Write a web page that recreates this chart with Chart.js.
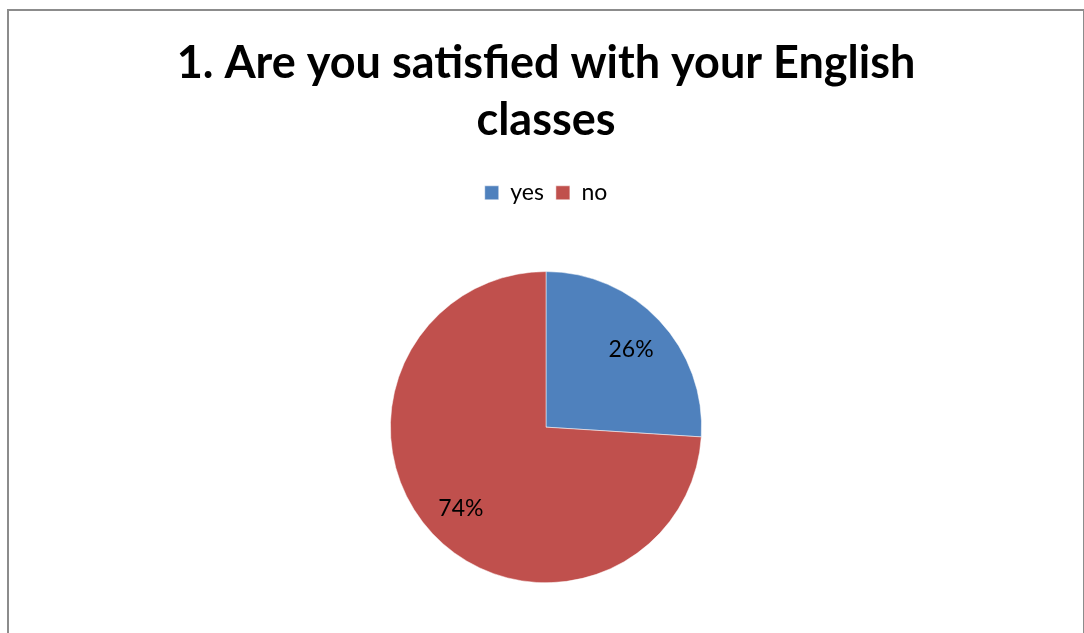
<!DOCTYPE html>
<html>
<head>
<meta charset="utf-8">
<script src="https://cdn.jsdelivr.net/npm/chart.js@4/dist/chart.umd.min.js"></script>
<style>
  html, body { margin: 0; padding: 0; background: #fff; overflow: hidden; }
  #frame {
    position: absolute; left: 7px; top: 9px;
    width: 1074px; height: 640px;
    border: 2px solid #8c8c8c;
  }
  #chart { display: block; }
</style>
</head>
<body>
<div id="frame"><canvas id="chart" width="1074" height="622"></canvas></div>
<script>
const titleLines = ['1. Are you satisfied with your English', 'classes'];
const answers = ['yes', 'no'];
const shares = [26, 74];
const sliceColors = ['#4f81bd', '#c0504d'];

const FONT = "Lato, 'Open Sans', sans-serif";

// percentage text inside each slice, at three quarters of the radius
const sliceLabels = {
  id: 'sliceLabels',
  afterDatasetsDraw(chart) {
    const ctx = chart.ctx;
    const meta = chart.getDatasetMeta(0);
    ctx.save();
    ctx.font = '23px ' + FONT;
    ctx.fillStyle = '#000';
    ctx.textAlign = 'center';
    ctx.textBaseline = 'middle';
    meta.data.forEach((arc, i) => {
      const p = arc.getProps(['x', 'y', 'startAngle', 'endAngle', 'outerRadius'], true);
      const mid = (p.startAngle + p.endAngle) / 2;
      const r = p.outerRadius * 0.75;
      ctx.fillText(shares[i] + '%', p.x + Math.cos(mid) * r, p.y + Math.sin(mid) * r + 2);
    });
    ctx.restore();
  }
};

// leave a gap between the legend and the pie
const legendGap = {
  id: 'legendGap',
  beforeInit(chart) {
    const fit = chart.legend.fit;
    chart.legend.fit = function () {
      fit.bind(chart.legend)();
      this.height += 57;
    };
  }
};

new Chart(document.getElementById('chart'), {
  type: 'pie',
  data: {
    labels: answers,
    datasets: [{
      data: shares,
      backgroundColor: sliceColors,
      borderColor: '#ffffff',
      borderWidth: 0.5
    }]
  },
  options: {
    responsive: false,
    animation: false,
    layout: { padding: { top: 0, bottom: 50 } },
    plugins: {
      title: {
        display: true,
        text: titleLines,
        color: '#000',
        font: { family: FONT, size: 45, weight: 'bold', lineHeight: 1.27 },
        padding: { top: 24, bottom: 20 }
      },
      legend: {
        display: true,
        position: 'top',
        labels: {
          color: '#000',
          font: { family: FONT, size: 23 },
          boxWidth: 14,
          boxHeight: 14,
          padding: 12
        }
      },
      tooltip: { enabled: false }
    }
  },
  plugins: [sliceLabels, legendGap]
});
</script>
</body>
</html>
